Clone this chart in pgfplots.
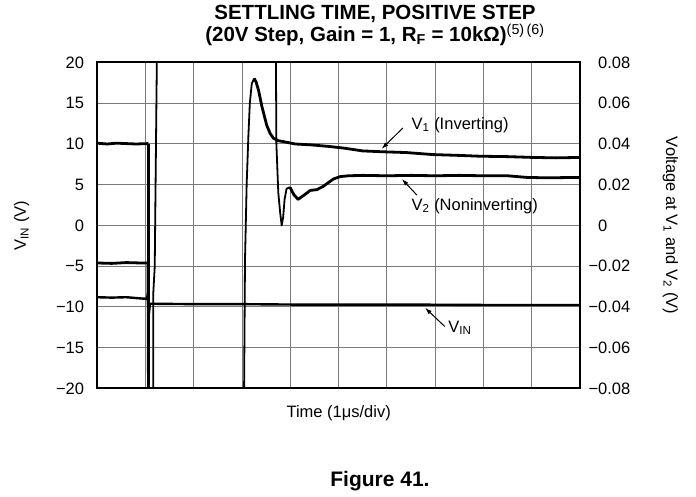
\documentclass[border=0pt]{standalone}
\usepackage{fontspec}
\setmainfont{Liberation Sans}
\usepackage{pgfplots}
\pgfplotsset{compat=1.18}
\usetikzlibrary{arrows.meta}

\definecolor{gridgray}{HTML}{7A7A7A}

\pgfplotsset{
  scopebox/.style={
    scale only axis, width=482.7pt, height=326pt,
    xmin=0, xmax=10, at={(0,0)}, anchor=south west,
    major tick length=0pt,
    axis line style={line width=2pt},
    scaled y ticks=false,
    tick label style={font=\fontsize{16.5}{19}\selectfont},
    label style={font=\fontsize{16.5}{19}\selectfont},
  },
  trace/.style={black, line width=2.8pt, line join=round},
  edge/.style={black, line width=1.8pt, line join=round},
}

\begin{document}
\begin{tikzpicture}[x=1pt,y=1pt]
\begin{axis}[scopebox,
  ymin=-20, ymax=20,
  xtick={0,1,...,10}, xticklabels={},
  ytick={-20,-15,...,20},
  yticklabels={−20,−15,−10,−5,0,5,10,15,20},
  yticklabel style={anchor=east, inner sep=0pt, xshift=-13pt},
  grid=major, grid style={gridgray, line width=1pt},
  ylabel={V\textsubscript{IN} (V)},
  ylabel style={at={(axis description cs:-0.1566,0.5)}, anchor=center},
  xlabel={Time (1μs/div)},
  xlabel style={at={(axis description cs:0.5,-0.0752)}, anchor=center},
]
% V1 (inverting)
\addplot[trace] coordinates {(0,10.1) (0.2,10.0) (0.4,10.1) (0.6,10.05) (0.8,10.0) (1.06,10.05)};
\addplot[black, line width=2.2pt] coordinates {(1.06,10.05) (1.06,-21)};
\addplot[edge] coordinates {(3.04,-21) (3.06,-4.2) (3.095,5.2) (3.13,11) (3.16,15) (3.2,17.4) (3.25,18.05)};
\addplot[trace] coordinates {
  (3.25,18.05) (3.29,17.6) (3.34,16.6) (3.41,14.6) (3.51,12.3) (3.58,11.3)
  (3.65,10.7) (3.75,10.4) (3.85,10.3) (4.1,10.0) (4.41,9.9) (4.8,9.7)
  (5.1,9.5) (5.5,9.15) (5.9,9.05) (6.4,8.95) (6.96,8.7) (7.5,8.6)
  (7.93,8.5) (8.5,8.45) (9.03,8.35) (9.5,8.3) (10,8.35)};
% V2 (noninverting)
\addplot[trace] coordinates {(0,-4.6) (0.3,-4.65) (0.6,-4.55) (0.9,-4.6) (1.04,-4.6)};
\addplot[edge] coordinates {(1.04,-4.6) (1.05,-21)};
\addplot[edge] coordinates {(1.16,-21) (1.16,-8.3) (1.19,-5) (1.235,21)};
\addplot[edge] coordinates {(3.70,21) (3.71,10) (3.75,4) (3.79,1.5) (3.82,0.0) (3.85,1.0) (3.88,3.2) (3.92,4.5) (3.99,4.7)};
\addplot[trace] coordinates {
  (3.99,4.7) (4.07,3.8) (4.16,3.2) (4.3,3.8) (4.41,4.3) (4.55,4.4)
  (4.68,4.8) (4.89,5.7) (5.03,6.0) (5.2,6.1) (5.5,6.15) (6,6.1)
  (6.5,6.15) (7,6.1) (7.5,6.15) (8,6.1) (8.5,6.1) (8.9,5.9)
  (9.3,5.85) (10,5.9)};
% V_IN
\addplot[black, line width=2.4pt, line join=round] coordinates {
  (0,-8.8) (0.3,-8.85) (0.6,-8.8) (0.9,-8.95) (1.03,-9.0) (1.05,-8.3)
  (1.07,-10.8) (1.09,-9.6) (2,-9.65) (3,-9.65) (4,-9.7) (5,-9.7)
  (6,-9.7) (7,-9.72) (8,-9.75) (9,-9.75) (10,-9.75)};

\begin{scope}[font=\fontsize{16.5}{19}\selectfont]
\draw[-{Latex[length=7pt,width=4.5pt]}, line width=1pt] (axis cs:6.33,11.96) -- (axis cs:5.89,9.4);
\node[anchor=base west, inner sep=0pt] at (axis cs:6.51,11.8) {V\textsubscript{1} (Inverting)};
\draw[-{Latex[length=7pt,width=4.5pt]}, line width=1pt] (axis cs:6.62,3.74) -- (axis cs:6.31,5.7);
\node[anchor=base west, inner sep=0pt] at (axis cs:6.51,1.9) {V\textsubscript{2} (Noninverting)};
\draw[-{Latex[length=7pt,width=4.5pt]}, line width=1pt] (axis cs:7.2,-12.4) -- (axis cs:6.79,-10.1);
\node[anchor=base west, inner sep=0pt] at (axis cs:7.27,-13.1) {V\textsubscript{IN}};
\end{scope}
\end{axis}

\begin{axis}[scopebox,
  ymin=-0.08, ymax=0.08,
  axis x line=none, axis y line*=right,
  ytick={-0.08,-0.06,-0.04,-0.02,0,0.02,0.04,0.06,0.08},
  yticklabels={\llap{−}0.08,\llap{−}0.06,\llap{−}0.04,\llap{−}0.02,0,0.02,0.04,0.06,0.08},
  yticklabel style={anchor=west, inner sep=0pt, xshift=18pt},
  ylabel={Voltage at V\textsubscript{1} and V\textsubscript{2} (V)},
  ylabel style={at={(axis description cs:1.1875,0.5)}, anchor=center, rotate=180},
]
\addplot[draw=none] coordinates {(0,0)};
\end{axis}

\node[anchor=base, align=center, inner sep=0pt,
  font=\bfseries\fontsize{20.5}{19}\selectfont] at (277.7,346.8)
  {SETTLING TIME, POSITIVE STEP\\(20V Step, Gain = 1, R\textsubscript{F} = 10kΩ)\textsuperscript{\mdseries (5)\,(6)}};
\node[anchor=base, font=\bfseries\fontsize{21}{20}\selectfont] at (282.7,-98.5) {Figure 41.};

\pgfresetboundingbox
\path (-97.3,-108.5) rectangle (598.7,388.5);
\end{tikzpicture}
\end{document}
